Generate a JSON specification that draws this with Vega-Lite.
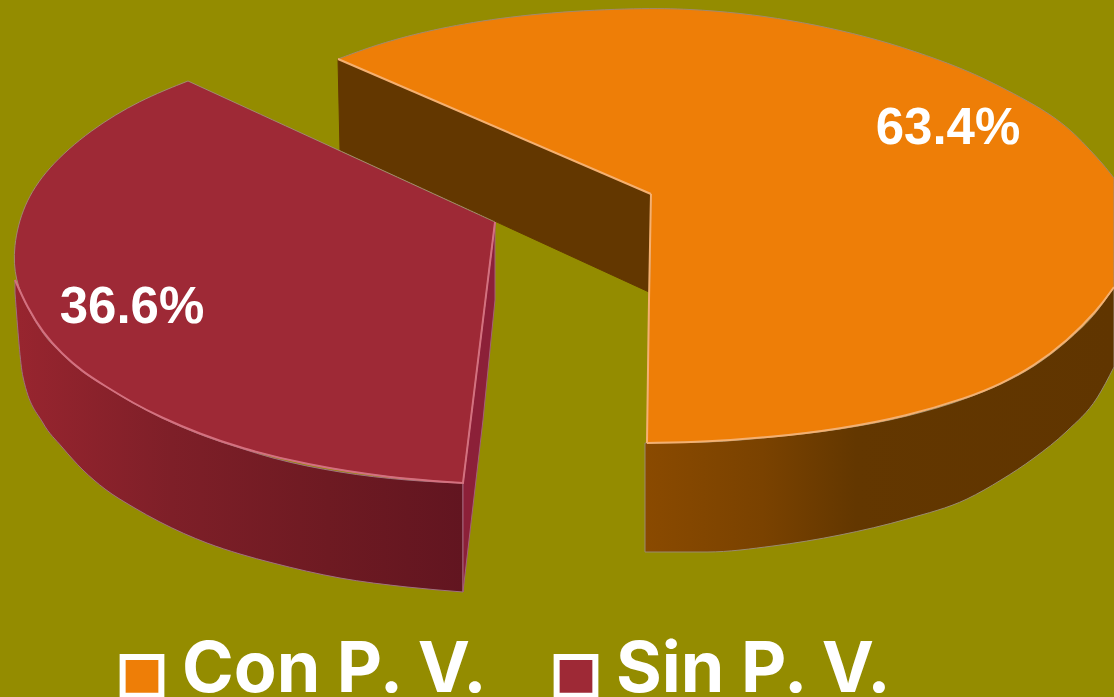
{
"$schema":"https://vega.github.io/schema/vega-lite/v6.json",
"width":1114,"height":697,"padding":0,"autosize":{"type":"none"},
"background":"#948c00",
"config":{"view":{"stroke":null}},
"datasets":{
"cut_orange":[{"o":1,"x":338,"y":59},{"o":2,"x":651,"y":194},{"o":3,"x":649,"y":292},{"o":4,"x":340,"y":150},{"o":5,"x":338,"y":59}],
"wall_orange":[{"x":645,"y":443,"y2":552},{"x":707,"y":442,"y2":552},{"x":773,"y":437,"y2":546},{"x":840,"y":429,"y2":535},{"x":907,"y":416,"y2":519},{"x":967,"y":398,"y2":499},{"x":1001,"y":384,"y2":480},{"x":1034,"y":366,"y2":458},{"x":1067,"y":341,"y2":431},{"x":1097,"y":311,"y2":398},{"x":1114,"y":287,"y2":367}],
"top":[
{"serie":"Con P. V.","o":1,"x":338,"y":59},{"serie":"Con P. V.","o":2,"x":370,"y":47},{"serie":"Con P. V.","o":3,"x":410,"y":35},{"serie":"Con P. V.","o":4,"x":470,"y":22},{"serie":"Con P. V.","o":5,"x":550,"y":12},{"serie":"Con P. V.","o":6,"x":640,"y":8},{"serie":"Con P. V.","o":7,"x":690,"y":9},{"serie":"Con P. V.","o":8,"x":740,"y":13},{"serie":"Con P. V.","o":9,"x":790,"y":20},{"serie":"Con P. V.","o":10,"x":840,"y":30},{"serie":"Con P. V.","o":11,"x":890,"y":43},{"serie":"Con P. V.","o":12,"x":940,"y":60},{"serie":"Con P. V.","o":13,"x":975,"y":74},{"serie":"Con P. V.","o":14,"x":1007,"y":90},{"serie":"Con P. V.","o":15,"x":1035,"y":105},{"serie":"Con P. V.","o":16,"x":1057,"y":119},{"serie":"Con P. V.","o":17,"x":1075,"y":134},{"serie":"Con P. V.","o":18,"x":1090,"y":150},{"serie":"Con P. V.","o":18.5,"x":1103,"y":164},{"serie":"Con P. V.","o":19,"x":1114,"y":178},{"serie":"Con P. V.","o":19.2,"x":1114,"y":178},{"serie":"Con P. V.","o":19.4,"x":1114,"y":178},{"serie":"Con P. V.","o":20,"x":1114,"y":287},{"serie":"Con P. V.","o":20.2,"x":1114,"y":287},{"serie":"Con P. V.","o":20.4,"x":1114,"y":287},{"serie":"Con P. V.","o":21,"x":1097,"y":311},{"serie":"Con P. V.","o":22,"x":1067,"y":341},{"serie":"Con P. V.","o":23,"x":1034,"y":366},{"serie":"Con P. V.","o":24,"x":1001,"y":384},{"serie":"Con P. V.","o":25,"x":967,"y":398},{"serie":"Con P. V.","o":26,"x":907,"y":416},{"serie":"Con P. V.","o":27,"x":840,"y":429},{"serie":"Con P. V.","o":28,"x":773,"y":437},{"serie":"Con P. V.","o":29,"x":707,"y":442},{"serie":"Con P. V.","o":30,"x":647,"y":443},{"serie":"Con P. V.","o":30.2,"x":647,"y":443},{"serie":"Con P. V.","o":30.4,"x":647,"y":443},{"serie":"Con P. V.","o":31,"x":651,"y":194},{"serie":"Con P. V.","o":31.2,"x":651,"y":194},{"serie":"Con P. V.","o":31.4,"x":651,"y":194},{"serie":"Con P. V.","o":32,"x":338,"y":59},
{"serie":"Sin P. V.","o":1,"x":188,"y":81},{"serie":"Sin P. V.","o":3,"x":495,"y":222},{"serie":"Sin P. V.","o":3.2,"x":495,"y":222},{"serie":"Sin P. V.","o":3.4,"x":495,"y":222},{"serie":"Sin P. V.","o":4,"x":463,"y":483},{"serie":"Sin P. V.","o":4.2,"x":463,"y":483},{"serie":"Sin P. V.","o":4.4,"x":463,"y":483},{"serie":"Sin P. V.","o":5,"x":390,"y":478},{"serie":"Sin P. V.","o":6,"x":307,"y":465},{"serie":"Sin P. V.","o":7,"x":240,"y":448},{"serie":"Sin P. V.","o":8,"x":200,"y":434},{"serie":"Sin P. V.","o":9,"x":160,"y":417},{"serie":"Sin P. V.","o":10,"x":133,"y":403},{"serie":"Sin P. V.","o":11,"x":105,"y":386},{"serie":"Sin P. V.","o":12,"x":83,"y":372},{"serie":"Sin P. V.","o":13,"x":62,"y":354},{"serie":"Sin P. V.","o":14,"x":43,"y":333},{"serie":"Sin P. V.","o":15,"x":27,"y":307},{"serie":"Sin P. V.","o":16,"x":15,"y":280},{"serie":"Sin P. V.","o":17,"x":13,"y":247},{"serie":"Sin P. V.","o":18,"x":23,"y":205},{"serie":"Sin P. V.","o":19,"x":47,"y":168},{"serie":"Sin P. V.","o":20,"x":90,"y":130},{"serie":"Sin P. V.","o":21,"x":140,"y":100},{"serie":"Sin P. V.","o":22,"x":188,"y":81}],
"wall_red":[{"x":15,"y":280,"y2":293},{"x":23,"y":298,"y2":377},{"x":43,"y":333,"y2":423},{"x":62,"y":354,"y2":447},{"x":83,"y":372,"y2":470},{"x":105,"y":386,"y2":489},{"x":133,"y":403,"y2":507},{"x":160,"y":417,"y2":522},{"x":207,"y":437,"y2":543},{"x":240,"y":448,"y2":554},{"x":273,"y":458,"y2":563},{"x":340,"y":472,"y2":578},{"x":407,"y":480,"y2":587},{"x":463,"y":483,"y2":592}],
"cut_red":[{"o":1,"x":495,"y":222},{"o":2,"x":495,"y":300},{"o":3,"x":483,"y":420},{"o":4,"x":463,"y":592},{"o":5,"x":463,"y":483},{"o":6,"x":495,"y":222}],
"rim":[
{"g":"a","o":1,"x":647,"y":443},{"g":"a","o":2,"x":707,"y":442},{"g":"a","o":3,"x":773,"y":437},{"g":"a","o":4,"x":840,"y":429},{"g":"a","o":5,"x":907,"y":416},{"g":"a","o":6,"x":967,"y":398},{"g":"a","o":7,"x":1001,"y":384},{"g":"a","o":8,"x":1034,"y":366},{"g":"a","o":9,"x":1067,"y":341},{"g":"a","o":10,"x":1097,"y":311},{"g":"a","o":11,"x":1114,"y":287},
{"g":"b","o":1,"x":651,"y":194},{"g":"b","o":2,"x":649,"y":292},{"g":"b","o":3,"x":647,"y":443},
{"g":"c","o":1,"x":338,"y":59},{"g":"c","o":2,"x":651,"y":194}],
"rim_red":[
{"g":"d","o":1,"x":15,"y":280},{"g":"d","o":2,"x":27,"y":307},{"g":"d","o":3,"x":43,"y":333},{"g":"d","o":4,"x":62,"y":354},{"g":"d","o":5,"x":83,"y":372},{"g":"d","o":6,"x":105,"y":386},{"g":"d","o":7,"x":133,"y":403},{"g":"d","o":8,"x":160,"y":417},{"g":"d","o":9,"x":200,"y":434},{"g":"d","o":10,"x":240,"y":448},{"g":"d","o":11,"x":307,"y":465},{"g":"d","o":12,"x":390,"y":478},{"g":"d","o":13,"x":463,"y":483},{"g":"d","o":13.2,"x":463,"y":483},{"g":"d","o":13.4,"x":463,"y":483},{"g":"d","o":14,"x":495,"y":222}],
"etiquetas":[{"serie":"Con P. V.","pct":"63.4%","x":948,"y":144},{"serie":"Sin P. V.","pct":"36.6%","x":132,"y":323}]
},
"encoding":{
"x":{"field":"x","type":"quantitative","scale":{"domain":[0,1114],"nice":false,"zero":false},"axis":null},
"y":{"field":"y","type":"quantitative","scale":{"domain":[697,0],"nice":false,"zero":false},"axis":null}
},
"layer":[
{"data":{"name":"cut_orange"},"mark":{"type":"line","fill":"#633700","stroke":"#633700","strokeWidth":1,"clip":true},"encoding":{"order":{"field":"o"}}},
{"data":{"name":"wall_orange"},"mark":{"type":"area","interpolate":"monotone","clip":true,"stroke":"#9a8a70","strokeWidth":1,"color":{"gradient":"linear","x1":0,"x2":1,"y1":0,"y2":0,"stops":[{"offset":0,"color":"#8a4a00"},{"offset":0.25,"color":"#7a4200"},{"offset":0.45,"color":"#633700"},{"offset":1,"color":"#603500"}]}},"encoding":{"y2":{"field":"y2"}}},
{"data":{"name":"wall_red"},"mark":{"type":"area","interpolate":"monotone","clip":true,"stroke":"#a07080","strokeWidth":1,"color":{"gradient":"linear","x1":0,"x2":1,"y1":0,"y2":0,"stops":[{"offset":0,"color":"#98252f"},{"offset":0.35,"color":"#7e1f28"},{"offset":0.7,"color":"#6e1a22"},{"offset":1,"color":"#621520"}]}},"encoding":{"y2":{"field":"y2"}}},
{"data":{"name":"cut_red"},"mark":{"type":"line","fill":"#8c2038","stroke":"#a5607a","strokeWidth":1,"clip":true},"encoding":{"order":{"field":"o"}}},
{"data":{"name":"top"},"mark":{"type":"line","interpolate":"basis","strokeWidth":1,"stroke":"#a08a70","clip":true},"encoding":{"order":{"field":"o"},"fill":{"field":"serie","type":"nominal","scale":{"domain":["Con P. V.","Sin P. V."],"range":["#ee7e07","#9e2936"]},
"legend":{"title":null,"orient":"none","legendX":107,"legendY":641,"direction":"horizontal","columns":2,"symbolType":"square","symbolSize":1500,"symbolStrokeWidth":6,"symbolStrokeColor":"#ffffff","symbolOpacity":1,"labelFontSize":70,"labelFontWeight":"bold","labelFont":"Inter","labelColor":"#ffffff","labelLimit":400,"labelOffset":5,"columnPadding":52,"encode":{"labels":{"update":{"dy":{"value":-5}}}}}}}},
{"data":{"name":"rim"},"mark":{"type":"line","interpolate":"basis","stroke":"#f5b070","strokeWidth":2,"clip":true},"encoding":{"detail":{"field":"g"},"order":{"field":"o"}}},
{"data":{"name":"rim_red"},"mark":{"type":"line","interpolate":"basis","stroke":"#d4707f","strokeWidth":2,"clip":true},"encoding":{"detail":{"field":"g"},"order":{"field":"o"}}},
{"data":{"name":"etiquetas"},"mark":{"type":"text","font":"Liberation Sans","fontWeight":"bold","fontSize":51,"color":"#ffffff","align":"center","baseline":"alphabetic"},"encoding":{"text":{"field":"pct"}}}
]
}
